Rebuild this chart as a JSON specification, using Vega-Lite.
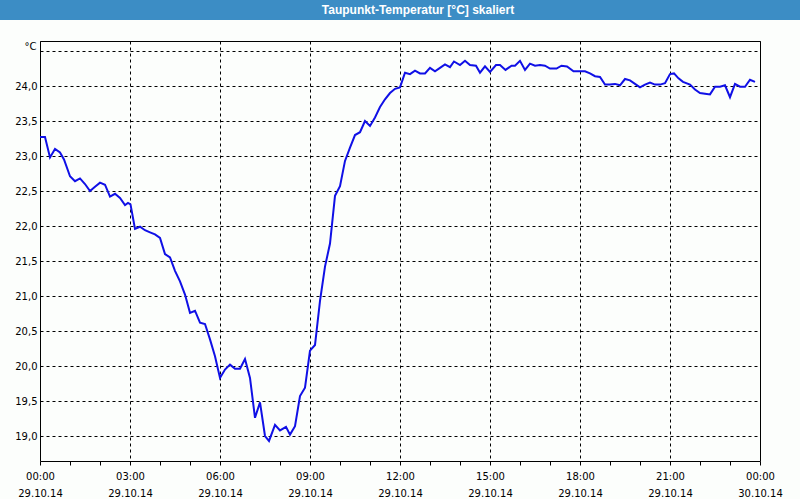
{
  "$schema": "https://vega.github.io/schema/vega-lite/v6.json",
  "background": "#fcfefc",
  "padding": 0,
  "spacing": 20,
  "config": {
    "font": "DejaVu Sans",
    "axis": {"labelFont": "DejaVu Sans", "labelFontSize": 10, "labelColor": "#000000", "titleColor": "#000000"}
  },
  "vconcat": [
    {
      "width": 800,
      "height": 20,
      "data": {"values": [{"title": "Taupunkt-Temperatur [°C] skaliert"}]},
      "mark": {"type": "text", "color": "#ffffff", "font": "Liberation Sans", "fontWeight": "bold", "fontSize": 12, "dx": 18},
      "encoding": {"text": {"field": "title", "type": "nominal"}},
      "view": {"fill": "#3c8dc5", "stroke": null}
    },
    {
      "spacing": 0,
      "bounds": "flush",
      "hconcat": [
        {
          "width": 40,
          "height": 420,
          "data": {"values": []},
          "mark": "point",
          "view": {"stroke": null}
        },
        {
          "width": 720,
          "height": 420,
          "view": {"fill": "#fcfefc", "stroke": "#000000", "strokeWidth": 1},
          "data": {"values": [
            {"t": "2014-10-29T00:00", "v": 23.27},
            {"t": "2014-10-29T00:10", "v": 23.27},
            {"t": "2014-10-29T00:20", "v": 22.98},
            {"t": "2014-10-29T00:30", "v": 23.10},
            {"t": "2014-10-29T00:40", "v": 23.05},
            {"t": "2014-10-29T00:48", "v": 22.95},
            {"t": "2014-10-29T01:00", "v": 22.71},
            {"t": "2014-10-29T01:10", "v": 22.64},
            {"t": "2014-10-29T01:20", "v": 22.68},
            {"t": "2014-10-29T01:30", "v": 22.60},
            {"t": "2014-10-29T01:40", "v": 22.50},
            {"t": "2014-10-29T01:50", "v": 22.56},
            {"t": "2014-10-29T02:00", "v": 22.62},
            {"t": "2014-10-29T02:10", "v": 22.59},
            {"t": "2014-10-29T02:20", "v": 22.42},
            {"t": "2014-10-29T02:30", "v": 22.46},
            {"t": "2014-10-29T02:40", "v": 22.40},
            {"t": "2014-10-29T02:50", "v": 22.30},
            {"t": "2014-10-29T02:56", "v": 22.33},
            {"t": "2014-10-29T03:01", "v": 22.31},
            {"t": "2014-10-29T03:10", "v": 21.96},
            {"t": "2014-10-29T03:20", "v": 21.99},
            {"t": "2014-10-29T03:30", "v": 21.94},
            {"t": "2014-10-29T03:40", "v": 21.91},
            {"t": "2014-10-29T03:50", "v": 21.88},
            {"t": "2014-10-29T04:00", "v": 21.83},
            {"t": "2014-10-29T04:10", "v": 21.60},
            {"t": "2014-10-29T04:20", "v": 21.55},
            {"t": "2014-10-29T04:30", "v": 21.36},
            {"t": "2014-10-29T04:40", "v": 21.21},
            {"t": "2014-10-29T04:50", "v": 21.02},
            {"t": "2014-10-29T05:00", "v": 20.76},
            {"t": "2014-10-29T05:10", "v": 20.79},
            {"t": "2014-10-29T05:20", "v": 20.62},
            {"t": "2014-10-29T05:30", "v": 20.60},
            {"t": "2014-10-29T05:40", "v": 20.38},
            {"t": "2014-10-29T05:50", "v": 20.14},
            {"t": "2014-10-29T06:00", "v": 19.83},
            {"t": "2014-10-29T06:10", "v": 19.95},
            {"t": "2014-10-29T06:20", "v": 20.02},
            {"t": "2014-10-29T06:30", "v": 19.96},
            {"t": "2014-10-29T06:40", "v": 19.96},
            {"t": "2014-10-29T06:50", "v": 20.10},
            {"t": "2014-10-29T07:00", "v": 19.83},
            {"t": "2014-10-29T07:10", "v": 19.26},
            {"t": "2014-10-29T07:20", "v": 19.48},
            {"t": "2014-10-29T07:30", "v": 19.00},
            {"t": "2014-10-29T07:38", "v": 18.93},
            {"t": "2014-10-29T07:50", "v": 19.16},
            {"t": "2014-10-29T08:00", "v": 19.08},
            {"t": "2014-10-29T08:12", "v": 19.13},
            {"t": "2014-10-29T08:20", "v": 19.02},
            {"t": "2014-10-29T08:30", "v": 19.14},
            {"t": "2014-10-29T08:40", "v": 19.57},
            {"t": "2014-10-29T08:50", "v": 19.69},
            {"t": "2014-10-29T09:00", "v": 20.22},
            {"t": "2014-10-29T09:10", "v": 20.30},
            {"t": "2014-10-29T09:20", "v": 20.93},
            {"t": "2014-10-29T09:30", "v": 21.42},
            {"t": "2014-10-29T09:40", "v": 21.75},
            {"t": "2014-10-29T09:50", "v": 22.43},
            {"t": "2014-10-29T10:00", "v": 22.57},
            {"t": "2014-10-29T10:10", "v": 22.93},
            {"t": "2014-10-29T10:20", "v": 23.12},
            {"t": "2014-10-29T10:30", "v": 23.30},
            {"t": "2014-10-29T10:40", "v": 23.34},
            {"t": "2014-10-29T10:50", "v": 23.50},
            {"t": "2014-10-29T11:00", "v": 23.43},
            {"t": "2014-10-29T11:10", "v": 23.55},
            {"t": "2014-10-29T11:20", "v": 23.70},
            {"t": "2014-10-29T11:30", "v": 23.81},
            {"t": "2014-10-29T11:40", "v": 23.90},
            {"t": "2014-10-29T11:50", "v": 23.96},
            {"t": "2014-10-29T12:00", "v": 23.98},
            {"t": "2014-10-29T12:10", "v": 24.19},
            {"t": "2014-10-29T12:20", "v": 24.17},
            {"t": "2014-10-29T12:30", "v": 24.22},
            {"t": "2014-10-29T12:40", "v": 24.18},
            {"t": "2014-10-29T12:50", "v": 24.18},
            {"t": "2014-10-29T13:00", "v": 24.26},
            {"t": "2014-10-29T13:10", "v": 24.21},
            {"t": "2014-10-29T13:20", "v": 24.26},
            {"t": "2014-10-29T13:30", "v": 24.31},
            {"t": "2014-10-29T13:40", "v": 24.27},
            {"t": "2014-10-29T13:48", "v": 24.35},
            {"t": "2014-10-29T14:00", "v": 24.30},
            {"t": "2014-10-29T14:10", "v": 24.36},
            {"t": "2014-10-29T14:20", "v": 24.30},
            {"t": "2014-10-29T14:32", "v": 24.29},
            {"t": "2014-10-29T14:40", "v": 24.19},
            {"t": "2014-10-29T14:50", "v": 24.28},
            {"t": "2014-10-29T15:00", "v": 24.20},
            {"t": "2014-10-29T15:12", "v": 24.30},
            {"t": "2014-10-29T15:20", "v": 24.30},
            {"t": "2014-10-29T15:31", "v": 24.23},
            {"t": "2014-10-29T15:43", "v": 24.29},
            {"t": "2014-10-29T15:50", "v": 24.29},
            {"t": "2014-10-29T16:00", "v": 24.36},
            {"t": "2014-10-29T16:10", "v": 24.23},
            {"t": "2014-10-29T16:20", "v": 24.32},
            {"t": "2014-10-29T16:30", "v": 24.29},
            {"t": "2014-10-29T16:40", "v": 24.30},
            {"t": "2014-10-29T16:50", "v": 24.29},
            {"t": "2014-10-29T17:00", "v": 24.25},
            {"t": "2014-10-29T17:13", "v": 24.25},
            {"t": "2014-10-29T17:23", "v": 24.29},
            {"t": "2014-10-29T17:34", "v": 24.28},
            {"t": "2014-10-29T17:47", "v": 24.21},
            {"t": "2014-10-29T18:00", "v": 24.21},
            {"t": "2014-10-29T18:10", "v": 24.21},
            {"t": "2014-10-29T18:20", "v": 24.18},
            {"t": "2014-10-29T18:30", "v": 24.14},
            {"t": "2014-10-29T18:40", "v": 24.13},
            {"t": "2014-10-29T18:50", "v": 24.02},
            {"t": "2014-10-29T19:00", "v": 24.02},
            {"t": "2014-10-29T19:10", "v": 24.03},
            {"t": "2014-10-29T19:20", "v": 24.01},
            {"t": "2014-10-29T19:30", "v": 24.10},
            {"t": "2014-10-29T19:40", "v": 24.08},
            {"t": "2014-10-29T19:50", "v": 24.03},
            {"t": "2014-10-29T20:00", "v": 23.98},
            {"t": "2014-10-29T20:10", "v": 24.02},
            {"t": "2014-10-29T20:20", "v": 24.05},
            {"t": "2014-10-29T20:30", "v": 24.02},
            {"t": "2014-10-29T20:40", "v": 24.02},
            {"t": "2014-10-29T20:50", "v": 24.04},
            {"t": "2014-10-29T21:00", "v": 24.17},
            {"t": "2014-10-29T21:08", "v": 24.18},
            {"t": "2014-10-29T21:17", "v": 24.11},
            {"t": "2014-10-29T21:26", "v": 24.06},
            {"t": "2014-10-29T21:40", "v": 24.02},
            {"t": "2014-10-29T21:50", "v": 23.95},
            {"t": "2014-10-29T22:00", "v": 23.90},
            {"t": "2014-10-29T22:10", "v": 23.89},
            {"t": "2014-10-29T22:20", "v": 23.88},
            {"t": "2014-10-29T22:30", "v": 23.99},
            {"t": "2014-10-29T22:40", "v": 23.99},
            {"t": "2014-10-29T22:50", "v": 24.01},
            {"t": "2014-10-29T23:00", "v": 23.84},
            {"t": "2014-10-29T23:10", "v": 24.03},
            {"t": "2014-10-29T23:20", "v": 23.99},
            {"t": "2014-10-29T23:30", "v": 23.99},
            {"t": "2014-10-29T23:40", "v": 24.09},
            {"t": "2014-10-29T23:50", "v": 24.06}
          ]},
          "mark": {"type": "line", "color": "#1010e6", "strokeWidth": 2},
          "encoding": {
            "x": {
              "field": "t",
              "type": "temporal",
              "scale": {"domain": [{"year": 2014, "month": 10, "date": 29, "hours": 0}, {"year": 2014, "month": 10, "date": 30, "hours": 0}], "nice": false},
              "axis": {
                "title": null,
                "domain": false,
                "values": [
                  {"year": 2014, "month": 10, "date": 29, "hours": 0},
                  {"year": 2014, "month": 10, "date": 29, "hours": 1},
                  {"year": 2014, "month": 10, "date": 29, "hours": 2},
                  {"year": 2014, "month": 10, "date": 29, "hours": 3},
                  {"year": 2014, "month": 10, "date": 29, "hours": 4},
                  {"year": 2014, "month": 10, "date": 29, "hours": 5},
                  {"year": 2014, "month": 10, "date": 29, "hours": 6},
                  {"year": 2014, "month": 10, "date": 29, "hours": 7},
                  {"year": 2014, "month": 10, "date": 29, "hours": 8},
                  {"year": 2014, "month": 10, "date": 29, "hours": 9},
                  {"year": 2014, "month": 10, "date": 29, "hours": 10},
                  {"year": 2014, "month": 10, "date": 29, "hours": 11},
                  {"year": 2014, "month": 10, "date": 29, "hours": 12},
                  {"year": 2014, "month": 10, "date": 29, "hours": 13},
                  {"year": 2014, "month": 10, "date": 29, "hours": 14},
                  {"year": 2014, "month": 10, "date": 29, "hours": 15},
                  {"year": 2014, "month": 10, "date": 29, "hours": 16},
                  {"year": 2014, "month": 10, "date": 29, "hours": 17},
                  {"year": 2014, "month": 10, "date": 29, "hours": 18},
                  {"year": 2014, "month": 10, "date": 29, "hours": 19},
                  {"year": 2014, "month": 10, "date": 29, "hours": 20},
                  {"year": 2014, "month": 10, "date": 29, "hours": 21},
                  {"year": 2014, "month": 10, "date": 29, "hours": 22},
                  {"year": 2014, "month": 10, "date": 29, "hours": 23},
                  {"year": 2014, "month": 10, "date": 30, "hours": 0}
                ],
                "ticks": true,
                "tickSize": 4,
                "tickColor": "#000000",
                "grid": true,
                "gridColor": "#000000",
                "gridDash": [3, 3],
                "gridOpacity": {"condition": {"test": "hours(datum.value) % 3 != 0", "value": 0}, "value": 1},
                "labelExpr": "hours(datum.value) % 3 == 0 ? [timeFormat(datum.value, '%H:%M'), timeFormat(datum.value, '%d.%m.%y')] : ''",
                "labelOverlap": false,
                "labelFlush": false,
                "labelBound": false,
                "labelPadding": 6,
                "labelLineHeight": 17,
                "labelBaseline": "top"
              }
            },
            "y": {
              "field": "v",
              "type": "quantitative",
              "scale": {"domain": [18.643, 24.643], "nice": false, "zero": false},
              "axis": {
                "values": [19, 19.5, 20, 20.5, 21, 21.5, 22, 22.5, 23, 23.5, 24, 24.5],
                "domain": false,
                "ticks": false,
                "grid": true,
                "gridColor": "#000000",
                "gridDash": [3, 3],
                "labelPadding": 3,
                "labelExpr": "datum.value == 24.5 ? '' : replace(format(datum.value, '.1f'), '.', ',')",
                "title": "°C",
                "titleAngle": 0,
                "titleX": -4,
                "titleY": 5,
                "titleAlign": "right",
                "titleBaseline": "middle",
                "titleFont": "DejaVu Sans",
                "titleFontSize": 10,
                "titleFontWeight": "normal"
              }
            }
          }
        }
      ]
    }
  ]
}
